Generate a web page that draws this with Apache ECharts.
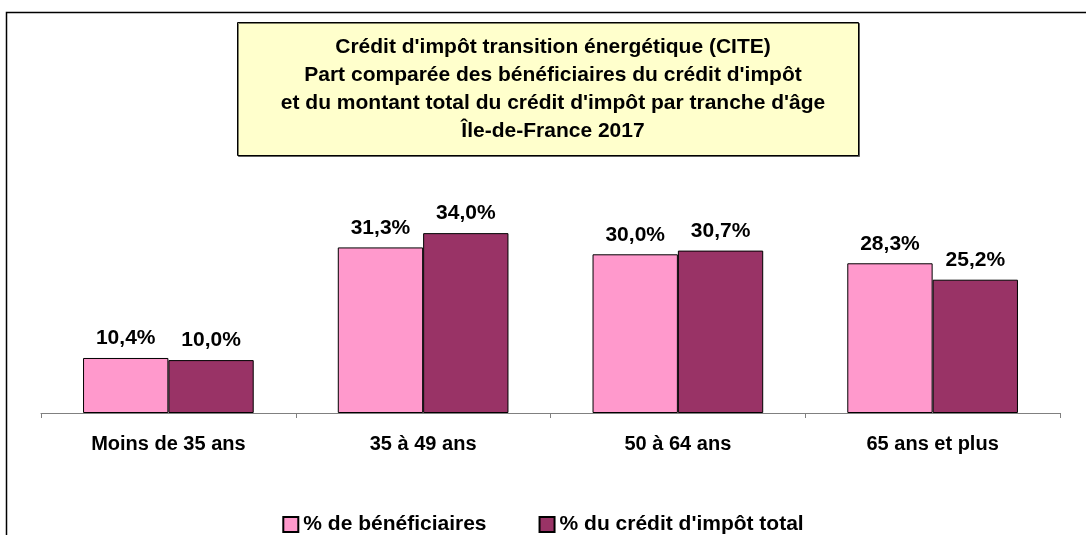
<!DOCTYPE html>
<html>
<head>
<meta charset="utf-8">
<script src="https://cdn.jsdelivr.net/npm/echarts@6/dist/echarts.min.js"></script>
<style>
  html, body { margin: 0; padding: 0; background: #fff; }
  #chart { width: 1086px; height: 535px; }
</style>
</head>
<body>
<div id="chart"></div>
<script>
  // tranches d'âge
  const categories = ["Moins de 35 ans", "35 à 49 ans", "50 à 64 ans", "65 ans et plus"];
  const beneficiaires = [10.4, 31.3, 30.0, 28.3];
  const creditTotal = [10.0, 34.0, 30.7, 25.2];
  const seriesNames = ["% de bénéficiaires", "% du crédit d'impôt total"];
  const titleLines = [
    "Crédit d'impôt transition énergétique (CITE)",
    "Part comparée des bénéficiaires du crédit d'impôt",
    "et du montant total du crédit d'impôt par tranche d'âge",
    "Île-de-France 2017"
  ];

  const font = "'Liberation Sans', Arial, sans-serif";
  const chart = echarts.init(document.getElementById("chart"));

  const fmt = p => p.value.toFixed(1).replace(".", ",") + "%";

  chart.setOption({
    animation: false,
    graphic: [
      {
        type: "rect",
        shape: { x: 6.5, y: 12.5, width: 1200, height: 600 },
        style: { fill: "none", stroke: "#000", lineWidth: 1.5 },
        silent: true
      },
      {
        type: "rect",
        shape: { x: 237.5, y: 22.5, width: 621, height: 133 },
        style: {
          fill: "#FFFFCC", stroke: "#000", lineWidth: 1,
          shadowColor: "rgba(0,0,0,0.5)", shadowOffsetX: 1, shadowOffsetY: 1
        },
        silent: true
      }
    ],
    title: {
      text: titleLines.join("\n"),
      left: 548,
      top: 28,
      textAlign: "center",
      textStyle: {
        fontFamily: font,
        fontSize: 21,
        fontWeight: "bold",
        lineHeight: 28,
        color: "#000"
      }
    },
    legend: {
      top: 509,
      left: "center",
      itemWidth: 15,
      itemHeight: 15,
      itemGap: 52,
      icon: "rect",
      textStyle: { fontFamily: font, fontSize: 21, fontWeight: "bold", color: "#000" },
      data: seriesNames
    },
    grid: { left: 41, right: 26, top: 201.4, bottom: 122, containLabel: false },
    xAxis: {
      type: "category",
      data: categories,
      axisLine: { lineStyle: { color: "#808080", width: 1 } },
      axisTick: { show: true, length: 5, lineStyle: { color: "#808080" } },
      axisLabel: {
        fontFamily: font, fontSize: 20, fontWeight: "bold", color: "#000", margin: 21
      }
    },
    yAxis: {
      type: "value",
      min: 0,
      max: 40,
      show: false,
      splitLine: { show: false }
    },
    series: [
      {
        name: seriesNames[0],
        type: "bar",
        data: beneficiaires,
        barGap: "0%",
        barCategoryGap: "33%",
        itemStyle: { color: "#FF99CC", borderColor: "#000", borderWidth: 1 },
        label: {
          show: true, position: "top", distance: 9, formatter: fmt,
          fontFamily: font, fontSize: 21, fontWeight: "bold", color: "#000"
        }
      },
      {
        name: seriesNames[1],
        type: "bar",
        data: creditTotal,
        itemStyle: { color: "#993366", borderColor: "#000", borderWidth: 1 },
        label: {
          show: true, position: "top", distance: 9, formatter: fmt,
          fontFamily: font, fontSize: 21, fontWeight: "bold", color: "#000"
        }
      }
    ]
  });
</script>
</body>
</html>
